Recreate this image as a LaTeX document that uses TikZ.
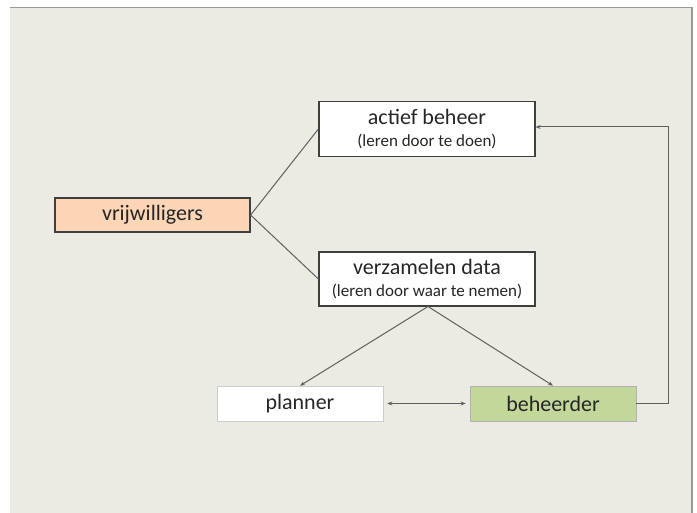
\documentclass[tikz,border=0pt]{standalone}
\usepackage{fontspec}
\setmainfont{Carlito}
\usetikzlibrary{arrows.meta}
\definecolor{panel}{HTML}{EBEBE3}
\definecolor{peach}{HTML}{FBD5B5}
\definecolor{leaf}{HTML}{C4D79B}
\definecolor{edge}{HTML}{3F3F3F}
\definecolor{wire}{HTML}{5F5F5F}
\definecolor{ink}{HTML}{262626}
\tikzset{
  px/.style={x=1pt,y=-1pt},
  box/.style={draw=edge,line width=1.2pt,fill=white,minimum width=216pt,minimum height=55pt,align=center,inner sep=1pt,text=ink},
  flat/.style={minimum width=166pt,minimum height=35pt,inner sep=2pt,text=ink,font=\fontsize{22}{24}\selectfont},
  conn/.style={draw=wire,line width=1pt},
  tip/.style={-{Stealth[length=5pt,width=4pt]}},
}
\newcommand{\bigline}[1]{{\fontsize{22}{23}\selectfont #1}}
\newcommand{\subline}[1]{{\fontsize{17}{18}\selectfont #1}}
\begin{document}
\begin{tikzpicture}[px]
\useasboundingbox (0,0) rectangle (697,513);
\fill[white] (0,0) rectangle (697,513);
\fill[panel] (10,7) rectangle (692,513);
\draw[gray!80,line width=1.2pt] (10,7.5) -- (692,7.5) -- (692,513);

\node[box] (actief) at (427,129) {\bigline{actief beheer}\\[8pt]\subline{(leren door te doen)}};
\node[box,minimum height=54pt] (verz) at (427,279) {\bigline{verzamelen data}\\[7.5pt]\subline{(leren door waar te nemen)}};
\node[draw=edge,line width=1.2pt,fill=peach,minimum width=195pt,minimum height=34pt,inner sep=2pt,text=ink,font=\fontsize{22}{24}\selectfont] (vrij) at (152.5,215) {vrijwilligers};
\node[flat,fill=white,draw=gray!40,line width=0.5pt] (planner) at (300,403.5) {planner};
\node[flat,fill=leaf,draw=gray!60,line width=0.6pt] (beheer) at (553,403.5) {beheerder};

\coordinate (vb) at (428,306.5);
\coordinate (turn1) at (668,403.5);
\coordinate (turn2) at (668,127);

\draw[conn] (vrij.east) -- (actief.west);
\draw[conn] (vrij.east) -- (verz.west);
\draw[conn,tip] (vb) -- (planner.north);
\draw[conn,tip] (vb) -- (beheer.north);
\draw[conn,{Stealth[length=5pt,width=4pt]}-{Stealth[length=5pt,width=4pt]}] ([xshift=4pt]planner.east) -- ([xshift=-4pt]beheer.west);
\draw[conn,tip] (beheer.east) -- (turn1) -- (turn2) -- (turn2 -| actief.east);
\end{tikzpicture}
\end{document}
